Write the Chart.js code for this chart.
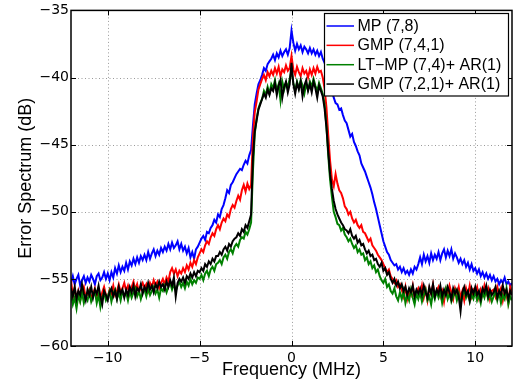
<!DOCTYPE html>
<html><head><meta charset="utf-8">
<script src="https://cdn.jsdelivr.net/npm/chart.js@4"></script>
<style>html,body{margin:0;padding:0;background:#fff;}canvas{display:block;}</style>
</head><body>
<canvas id="c" width="515" height="391"></canvas>
<script>
const freq = [
-12.0,-11.9,-11.8,-11.7,-11.6,-11.5,-11.4,-11.3,-11.2,-11.1,
-11.0,-10.9,-10.8,-10.7,-10.6,-10.5,-10.4,-10.3,-10.2,-10.1,
-10.0,-9.9,-9.8,-9.7,-9.6,-9.5,-9.4,-9.3,-9.2,-9.1,
-9.0,-8.9,-8.8,-8.7,-8.6,-8.5,-8.4,-8.3,-8.2,-8.1,
-8.0,-7.9,-7.8,-7.7,-7.6,-7.5,-7.4,-7.3,-7.2,-7.1,
-7.0,-6.9,-6.8,-6.7,-6.6,-6.5,-6.4,-6.3,-6.2,-6.1,
-6.0,-5.9,-5.8,-5.7,-5.6,-5.5,-5.4,-5.3,-5.2,-5.1,
-5.0,-4.9,-4.8,-4.7,-4.6,-4.5,-4.4,-4.3,-4.2,-4.1,
-4.0,-3.9,-3.8,-3.7,-3.6,-3.5,-3.4,-3.3,-3.2,-3.1,
-3.0,-2.9,-2.8,-2.7,-2.6,-2.5,-2.4,-2.3,-2.2,-2.1,
-2.0,-1.9,-1.8,-1.7,-1.6,-1.5,-1.4,-1.3,-1.2,-1.1,
-1.0,-0.9,-0.8,-0.7,-0.6,-0.5,-0.4,-0.3,-0.2,-0.1,
0.0,0.1,0.2,0.3,0.4,0.5,0.6,0.7,0.8,0.9,
1.0,1.1,1.2,1.3,1.4,1.5,1.6,1.7,1.8,1.9,
2.0,2.1,2.2,2.3,2.4,2.5,2.6,2.7,2.8,2.9,
3.0,3.1,3.2,3.3,3.4,3.5,3.6,3.7,3.8,3.9,
4.0,4.1,4.2,4.3,4.4,4.5,4.6,4.7,4.8,4.9,
5.0,5.1,5.2,5.3,5.4,5.5,5.6,5.7,5.8,5.9,
6.0,6.1,6.2,6.3,6.4,6.5,6.6,6.7,6.8,6.9,
7.0,7.1,7.2,7.3,7.4,7.5,7.6,7.7,7.8,7.9,
8.0,8.1,8.2,8.3,8.4,8.5,8.6,8.7,8.8,8.9,
9.0,9.1,9.2,9.3,9.4,9.5,9.6,9.7,9.8,9.9,
10.0,10.1,10.2,10.3,10.4,10.5,10.6,10.7,10.8,10.9,
11.0,11.1,11.2,11.3,11.4,11.5,11.6,11.7,11.8,11.9,
12.0];

const mp = [
-55.3,-54.8,-55.4,-55.0,-54.7,-55.5,-55.1,-54.8,-55.3,-54.9,
-55.2,-54.7,-55.0,-55.4,-54.8,-54.6,-55.1,-54.9,-54.5,-55.0,
-54.6,-55.1,-54.5,-54.9,-54.2,-54.6,-54.0,-54.5,-54.1,-54.4,
-53.8,-54.3,-53.7,-54.0,-53.5,-53.9,-53.4,-53.8,-53.3,-53.6,
-53.2,-53.6,-53.0,-53.5,-53.1,-52.8,-53.3,-52.9,-53.2,-52.7,
-53.0,-52.6,-52.9,-52.4,-52.8,-52.3,-52.7,-52.5,-52.2,-52.8,
-52.4,-52.9,-52.6,-53.1,-52.7,-53.4,-53.0,-53.5,-52.8,-52.6,
-52.3,-52.0,-51.8,-52.1,-51.5,-51.6,-51.2,-51.0,-50.6,-50.8,
-50.2,-50.4,-49.8,-49.5,-49.0,-48.4,-48.6,-48.0,-47.8,-47.5,
-47.2,-47.0,-46.8,-46.9,-46.5,-46.2,-46.4,-45.8,-45.4,-43.6,
-42.0,-41.2,-40.5,-40.2,-39.8,-39.3,-39.5,-39.0,-38.8,-38.6,
-38.3,-38.7,-38.2,-38.5,-38.0,-38.4,-38.1,-37.9,-38.3,-37.8,
-36.5,-37.4,-38.0,-37.5,-37.9,-37.6,-38.1,-37.7,-37.9,-38.2,
-37.8,-38.2,-37.9,-38.3,-38.0,-38.4,-38.1,-38.6,-38.9,-39.4,
-40.0,-40.6,-41.0,-41.5,-41.9,-42.0,-42.4,-42.3,-42.8,-43.2,
-43.4,-43.9,-44.4,-44.2,-44.8,-45.1,-45.5,-45.8,-46.4,-46.7,
-47.0,-47.4,-47.8,-48.2,-48.7,-49.3,-49.8,-50.4,-51.0,-51.6,
-52.2,-52.6,-53.0,-53.2,-53.6,-53.8,-54.0,-53.9,-54.3,-54.1,
-54.5,-54.2,-54.6,-54.4,-54.7,-54.3,-54.6,-54.1,-54.3,-53.9,
-53.4,-53.9,-53.2,-53.7,-53.3,-53.8,-53.1,-53.6,-53.2,-53.5,
-53.0,-53.6,-53.1,-52.8,-53.4,-52.9,-53.3,-52.8,-53.5,-53.1,
-53.4,-53.8,-53.5,-53.9,-53.6,-54.1,-53.8,-54.3,-53.9,-54.4,
-54.2,-54.6,-54.3,-54.8,-54.5,-54.9,-54.6,-55.0,-54.7,-55.1,
-54.8,-55.2,-55.0,-55.4,-55.1,-55.3,-54.9,-55.4,-55.2,-55.5,
-55.3];

const gmp = [
-55.1,-56.3,-55.7,-56.5,-55.9,-56.6,-56.0,-55.6,-56.4,-56.1,
-55.8,-56.5,-56.1,-55.7,-56.3,-55.9,-56.6,-56.0,-55.6,-56.2,
-56.4,-55.8,-56.1,-55.5,-56.2,-55.9,-55.4,-56.0,-55.7,-55.3,
-55.9,-55.5,-56.1,-55.6,-55.2,-55.8,-55.4,-56.0,-55.6,-55.3,
-55.7,-55.4,-55.9,-55.3,-55.6,-55.1,-55.5,-55.2,-55.7,-55.3,
-55.0,-55.4,-54.9,-55.2,-54.5,-54.2,-54.6,-54.3,-54.8,-54.4,
-54.6,-54.2,-54.5,-54.0,-54.3,-53.8,-54.1,-53.6,-53.9,-53.4,
-53.1,-52.8,-53.0,-52.5,-52.2,-52.4,-51.9,-51.6,-51.8,-51.3,
-51.0,-51.3,-50.8,-50.5,-50.7,-50.2,-50.4,-49.8,-49.5,-49.7,
-49.2,-48.8,-49.1,-48.4,-48.0,-48.5,-47.9,-48.3,-48.0,-44.5,
-42.6,-41.8,-40.9,-40.5,-40.1,-39.8,-40.2,-39.6,-39.9,-39.5,
-39.8,-39.3,-39.7,-39.2,-39.9,-39.4,-39.6,-39.1,-39.5,-39.3,
-38.4,-39.4,-39.8,-39.2,-39.6,-39.9,-39.3,-39.7,-39.5,-40.0,
-39.4,-39.8,-39.3,-39.7,-39.2,-39.6,-39.5,-40.0,-40.8,-42.2,
-44.3,-46.2,-47.6,-48.1,-47.2,-47.9,-48.4,-48.6,-49.0,-49.6,
-49.8,-50.2,-50.0,-50.5,-50.8,-50.6,-51.0,-51.2,-51.0,-51.5,
-51.6,-51.9,-52.2,-52.0,-52.5,-52.7,-52.9,-53.2,-53.4,-53.6,
-53.9,-54.2,-54.5,-54.3,-54.8,-55.0,-55.3,-55.1,-55.6,-55.4,
-55.8,-56.3,-55.6,-56.5,-55.9,-56.2,-55.5,-56.4,-56.0,-55.7,
-56.2,-55.5,-56.4,-55.8,-56.6,-55.7,-56.1,-55.4,-56.3,-55.9,
-55.6,-56.3,-55.9,-56.7,-55.8,-56.2,-55.5,-56.0,-56.5,-55.7,
-56.1,-55.6,-56.4,-55.9,-56.6,-55.7,-56.2,-55.5,-56.3,-55.8,
-56.0,-55.6,-56.4,-55.8,-56.2,-55.5,-56.1,-55.7,-56.5,-55.9,
-55.8,-56.3,-55.6,-56.1,-55.7,-56.6,-55.9,-56.2,-56.8,-55.6,
-56.0];

const ltmpAr = [
-56.1,-56.9,-56.4,-57.2,-56.2,-56.7,-56.0,-56.8,-56.3,-56.6,
-56.0,-56.7,-56.3,-55.9,-56.8,-56.2,-57.1,-56.4,-56.0,-56.6,
-56.3,-55.9,-56.7,-56.1,-55.8,-56.5,-56.0,-56.6,-55.9,-56.3,
-56.0,-56.6,-55.9,-56.4,-56.0,-55.7,-56.3,-55.9,-56.5,-56.0,
-55.8,-56.3,-55.7,-56.2,-55.9,-55.6,-56.1,-55.8,-56.4,-55.7,
-55.9,-55.5,-56.0,-55.6,-55.3,-55.8,-55.4,-55.9,-55.5,-55.2,
-55.6,-55.3,-55.7,-55.2,-55.5,-55.0,-55.4,-55.1,-55.3,-54.9,
-55.0,-54.7,-55.1,-54.6,-54.4,-54.8,-54.3,-54.1,-54.4,-53.9,
-53.8,-53.6,-53.9,-53.4,-53.2,-53.5,-53.0,-52.8,-53.1,-52.6,
-52.4,-52.6,-52.1,-51.9,-52.0,-51.5,-51.7,-51.3,-50.8,-47.0,
-44.2,-43.1,-42.3,-41.9,-41.6,-41.0,-41.3,-40.7,-41.2,-40.5,
-40.8,-40.2,-41.0,-40.5,-41.7,-40.3,-40.9,-40.4,-40.7,-40.1,
-39.5,-40.4,-41.0,-40.3,-40.8,-40.2,-40.6,-41.2,-40.5,-40.9,
-40.3,-40.7,-40.1,-40.6,-41.0,-40.4,-40.8,-41.2,-42.0,-43.6,
-45.8,-47.6,-48.9,-50.0,-50.4,-50.9,-51.0,-51.4,-51.2,-51.7,
-51.9,-52.2,-52.0,-52.4,-52.7,-52.5,-53.0,-52.8,-53.2,-53.1,
-53.6,-53.4,-53.9,-53.7,-54.2,-54.0,-54.5,-54.3,-54.8,-55.1,
-55.3,-55.0,-55.6,-55.4,-55.9,-56.1,-55.7,-56.3,-56.6,-56.0,
-56.5,-55.9,-56.8,-56.2,-56.6,-55.8,-56.4,-56.9,-56.1,-56.5,
-56.0,-56.7,-56.2,-55.8,-56.6,-56.3,-56.9,-56.0,-56.5,-55.9,
-56.4,-56.0,-56.8,-56.2,-55.7,-56.5,-56.1,-56.7,-56.3,-55.9,
-56.6,-56.1,-56.9,-56.3,-55.8,-56.4,-56.0,-56.7,-56.2,-56.5,
-55.9,-56.6,-56.2,-56.8,-56.0,-56.4,-55.8,-56.5,-56.1,-56.7,
-56.3,-55.9,-56.6,-56.0,-56.8,-56.2,-56.5,-55.7,-56.9,-56.3,
-56.6];

const gmpAr = [
-55.7,-56.3,-55.6,-56.5,-55.9,-56.2,-55.4,-56.1,-56.6,-55.8,
-56.2,-55.6,-56.4,-55.8,-56.1,-55.5,-56.3,-56.9,-55.9,-56.2,
-56.6,-56.0,-55.7,-56.3,-55.9,-56.5,-55.6,-56.1,-55.8,-56.4,
-55.8,-56.2,-55.6,-56.0,-55.5,-56.3,-55.7,-55.9,-55.4,-56.1,
-55.6,-55.9,-55.3,-55.8,-55.5,-56.0,-55.4,-55.7,-55.2,-55.6,
-55.4,-55.8,-55.2,-55.6,-55.1,-55.5,-54.9,-56.3,-55.3,-55.0,
-55.2,-54.9,-55.3,-54.8,-55.0,-54.6,-54.9,-54.5,-54.8,-54.4,
-54.5,-54.2,-54.4,-53.9,-54.1,-53.7,-53.9,-53.5,-53.7,-53.3,
-53.3,-53.0,-53.2,-52.8,-52.6,-52.9,-52.4,-52.6,-52.2,-52.0,
-51.9,-51.6,-51.8,-51.3,-51.5,-51.0,-51.2,-50.7,-50.2,-46.0,
-44.0,-43.2,-42.4,-42.0,-41.6,-41.2,-41.5,-40.9,-41.3,-40.8,
-41.0,-40.4,-41.3,-40.6,-40.2,-41.5,-40.7,-40.3,-41.1,-40.5,
-38.9,-40.5,-41.2,-40.4,-40.9,-40.3,-41.4,-40.6,-40.2,-41.0,
-40.5,-41.1,-40.3,-40.8,-41.5,-40.6,-41.0,-41.4,-42.3,-43.7,
-45.5,-47.2,-48.3,-49.2,-49.8,-50.2,-50.5,-50.8,-51.0,-51.3,
-51.4,-51.6,-51.3,-51.8,-52.0,-51.8,-52.3,-52.1,-52.5,-52.4,
-52.8,-53.1,-52.9,-53.3,-53.2,-53.6,-53.5,-53.9,-54.1,-53.8,
-54.4,-54.2,-54.7,-54.5,-55.0,-55.3,-55.0,-55.5,-55.2,-55.7,
-55.4,-55.9,-55.6,-56.2,-55.7,-56.0,-55.5,-56.3,-55.8,-56.1,
-55.7,-56.2,-55.5,-56.0,-56.4,-55.6,-56.1,-55.4,-56.3,-55.8,
-56.1,-55.5,-56.3,-55.8,-56.2,-55.6,-56.0,-56.5,-55.7,-56.1,
-55.8,-56.3,-57.4,-56.0,-55.6,-56.2,-55.9,-56.6,-55.7,-56.1,
-55.6,-56.2,-55.9,-56.5,-55.7,-56.0,-55.5,-56.3,-55.8,-56.2,
-56.0,-55.6,-56.4,-55.9,-56.2,-55.5,-56.1,-55.8,-56.5,-55.9,
-56.2];

const seriesLabels = ['MP (7,8)', 'GMP (7,4,1)', 'LT\u2212MP (7,4)+ AR(1)', 'GMP (7,2,1)+ AR(1)'];
const seriesColors = ['#0000ff', '#ff0000', '#008000', '#000000'];
const seriesValues = [mp, gmp, ltmpAr, gmpAr];
const xTicks = [-10, -5, 0, 5, 10];
const yTicks = [-60, -55, -50, -45, -40, -35];
const xTitle = 'Frequency (MHz)';
const yTitle = 'Error Spectrum (dB)';

const fmt = v => String(v).replace('-', '\u2212');

const framePlugin = {
  id: 'frame',
  beforeDatasetsDraw(chart) {
    const {ctx, chartArea: a, scales: {x, y}} = chart;
    ctx.save();
    ctx.strokeStyle = '#9a9a9a';
    ctx.lineWidth = 1;
    ctx.setLineDash([1, 2.5]);
    xTicks.forEach(v => {
      const px = Math.round(x.getPixelForValue(v)) + 0.5;
      ctx.beginPath(); ctx.moveTo(px, a.top); ctx.lineTo(px, a.bottom); ctx.stroke();
    });
    yTicks.forEach(v => {
      const py = Math.round(y.getPixelForValue(v)) + 0.5;
      if (py <= a.top + 1 || py >= a.bottom - 1) return;
      ctx.beginPath(); ctx.moveTo(a.left, py); ctx.lineTo(a.right, py); ctx.stroke();
    });
    ctx.restore();
  },
  afterDatasetsDraw(chart) {
    const {ctx, chartArea: a, scales: {x, y}} = chart;
    ctx.save();
    ctx.setLineDash([]);
    ctx.strokeStyle = '#000';
    ctx.lineWidth = 1;
    const tl = 5;
    xTicks.forEach(v => {
      const px = Math.round(x.getPixelForValue(v)) + 0.5;
      ctx.beginPath();
      ctx.moveTo(px, a.bottom); ctx.lineTo(px, a.bottom - tl);
      ctx.moveTo(px, a.top); ctx.lineTo(px, a.top + tl);
      ctx.stroke();
    });
    yTicks.forEach(v => {
      const py = Math.round(y.getPixelForValue(v)) + 0.5;
      ctx.beginPath();
      ctx.moveTo(a.left, py); ctx.lineTo(a.left + tl, py);
      ctx.moveTo(a.right, py); ctx.lineTo(a.right - tl, py);
      ctx.stroke();
    });
    ctx.lineWidth = 1.5;
    ctx.strokeRect(a.left, a.top, a.right - a.left, a.bottom - a.top);

    // legend
    const bx = 324.5, by = 13.5, bw = 184, bh = 82.5;
    ctx.fillStyle = '#fff';
    ctx.fillRect(bx, by, bw, bh);
    ctx.lineWidth = 1.2;
    ctx.strokeStyle = '#000';
    ctx.strokeRect(bx, by, bw, bh);
    ctx.font = '16px "Liberation Sans", Arial, sans-serif';
    ctx.textBaseline = 'middle';
    ctx.textAlign = 'left';
    chart.data.datasets.forEach((ds, i) => {
      const cy = 26 + i * 19.35;
      ctx.strokeStyle = ds.borderColor;
      ctx.lineWidth = 1.5;
      ctx.beginPath(); ctx.moveTo(326.5, cy); ctx.lineTo(354, cy); ctx.stroke();
      ctx.fillStyle = '#000';
      ctx.fillText(ds.label, 357.5, cy + 0.5);
    });
    ctx.restore();
  }
};

const datasets = seriesValues.map((vals, i) => ({
  label: seriesLabels[i],
  data: freq.map((f, k) => ({x: f, y: vals[k]})),
  borderColor: seriesColors[i],
  backgroundColor: seriesColors[i],
  borderWidth: 2,
  pointRadius: 0,
  tension: 0,
  fill: false,
  order: 3 - i
}));

new Chart(document.getElementById('c'), {
  type: 'line',
  data: {datasets},
  options: {
    responsive: false,
    animation: false,
    devicePixelRatio: 1,
    layout: {padding: {top: 9, right: 3, bottom: 0, left: 0}},
    plugins: {legend: {display: false}, tooltip: {enabled: false}},
    scales: {
      x: {
        type: 'linear', min: -12, max: 12,
        afterBuildTicks: s => { s.ticks = xTicks.map(v => ({value: v})); },
        afterFit: s => { s.height = 45; },
        grid: {display: false, drawTicks: false},
        border: {display: false},
        ticks: {font: {family: 'DejaVu Sans', size: 14}, color: '#000', padding: 4, maxRotation: 0, callback: fmt},
        title: {display: true, text: xTitle, color: '#000', font: {family: 'Liberation Sans', size: 18}, padding: {top: 0, bottom: 10.5}}
      },
      y: {
        type: 'linear', min: -60, max: -35,
        afterBuildTicks: s => { s.ticks = yTicks.map(v => ({value: v})); },
        afterFit: s => { s.width = 71; },
        grid: {display: false, drawTicks: false},
        border: {display: false},
        ticks: {font: {family: 'DejaVu Sans', size: 14}, color: '#000', padding: 2, callback: fmt},
        title: {display: true, text: yTitle, color: '#000', font: {family: 'Liberation Sans', size: 18}, padding: {top: 15.5, bottom: 0}}
      }
    }
  },
  plugins: [framePlugin]
});
</script>
</body></html>
